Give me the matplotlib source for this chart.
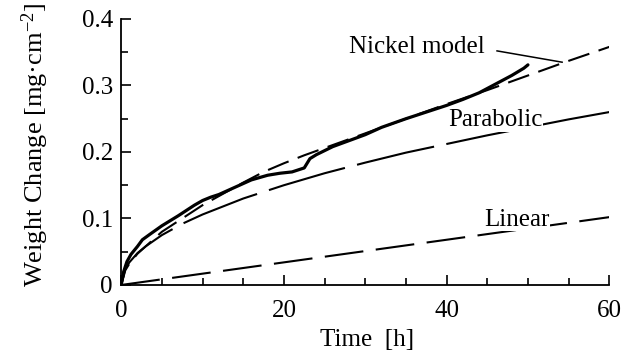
import matplotlib
matplotlib.use("Agg")
import matplotlib.pyplot as plt
import matplotlib.ticker as mticker

plt.rcParams.update({
    "font.family":       ["Liberation Serif", "DejaVu Serif"],
    "mathtext.fontset":  "custom",
    "mathtext.rm":       "Liberation Serif",
    "mathtext.it":       "Liberation Serif:italic",
    "axes.spines.top":   False,
    "axes.spines.right": False,
    "lines.scale_dashes": False,
})

# measured weight change (wiggly trace)
t_meas = [0, 0.3, 0.7, 1.2, 2.0, 2.6, 3.5, 5, 7, 9, 10, 11, 12, 14, 16,
          18, 19.5, 21, 22.5, 23.2, 24, 26, 28, 30, 32, 35, 38, 40, 42,
          44, 46, 48, 49.5, 50]
w_meas = [0, 0.02, 0.035, 0.046, 0.058, 0.068, 0.076, 0.089, 0.104, 0.12,
          0.127, 0.132, 0.136, 0.147, 0.158, 0.165, 0.168, 0.17, 0.176,
          0.19, 0.196, 0.208, 0.217, 0.226, 0.237, 0.25, 0.262, 0.27,
          0.279, 0.289, 0.302, 0.315, 0.326, 0.331]

# nickel model
t_nick = [0, 0.5, 1, 2, 3, 5, 7.5, 10, 12.5, 15, 17.5, 20, 22.5, 25, 30,
          35, 40, 45, 50, 55, 60]
w_nick = [0, 0.022, 0.032, 0.047, 0.058, 0.08, 0.1, 0.12, 0.137, 0.154,
          0.17, 0.183, 0.195, 0.206, 0.228, 0.25, 0.272, 0.293, 0.315,
          0.337, 0.358]

# parabolic rate law
t_para = [0, 0.5, 1, 2, 3, 5, 7.5, 10, 15, 20, 25, 30, 35, 40, 45, 50, 55, 60]
w_para = [0, 0.024, 0.034, 0.048, 0.058, 0.075, 0.092, 0.106, 0.13, 0.15,
          0.168, 0.184, 0.199, 0.212, 0.225, 0.237, 0.249, 0.26]

# linear rate law
t_lin = [0, 60]
w_lin = [0, 0.102]

fig = plt.figure(figsize=(6.38, 3.58), dpi=100)
ax = fig.add_axes([0.19, 0.204, 0.765, 0.743])

ax.plot(t_lin, w_lin, color="black", lw=1.5, dashes=(28, 9))
ax.plot(t_para, w_para, color="black", lw=1.5, dashes=(57, 9))
ax.plot(t_nick, w_nick, color="black", lw=1.5, dashes=(16, 7))
ax.plot(t_meas, w_meas, color="black", lw=2.3, solid_capstyle="round")

ax.set_xlim(0, 60)
ax.set_ylim(0, 0.4)

ax.xaxis.set_major_locator(mticker.MultipleLocator(20))
ax.xaxis.set_minor_locator(mticker.MultipleLocator(5))
ax.yaxis.set_major_locator(mticker.MultipleLocator(0.1))
ax.yaxis.set_minor_locator(mticker.MultipleLocator(0.05))
ax.yaxis.set_major_formatter(
    mticker.FuncFormatter(lambda v, _: "0" if abs(v) < 1e-9 else f"{v:.1f}"))

for s in ("left", "bottom"):
    ax.spines[s].set_linewidth(1.3)
ax.tick_params(which="both", direction="in", width=1.2, labelsize=18)
ax.tick_params(which="major", length=7)
ax.tick_params(which="minor", length=5)
ax.tick_params(axis="x", pad=11)
ax.tick_params(axis="y", pad=6)

ax.set_xlabel("Time  [h]", fontsize=18)
ax.set_ylabel("Weight Change [mg\u00b7cm$^{-2}$]", fontsize=19)
ax.xaxis.set_label_coords(0.504, -0.165)
ax.yaxis.set_label_coords(-0.143, 0.526)

ax.text(36.4, 0.358, "Nickel model", fontsize=18, ha="center", va="center")
ax.plot([46.2, 54.2], [0.352, 0.335], color="black", lw=1.1)
ax.text(46, 0.248, "Parabolic", fontsize=18, ha="center", va="center",
        bbox=dict(facecolor="white", edgecolor="none", pad=0.5))
ax.text(48.7, 0.097, "Linear", fontsize=18, ha="center", va="center",
        bbox=dict(facecolor="white", edgecolor="none", pad=0.0))

fig.savefig("out.png", dpi=100)
